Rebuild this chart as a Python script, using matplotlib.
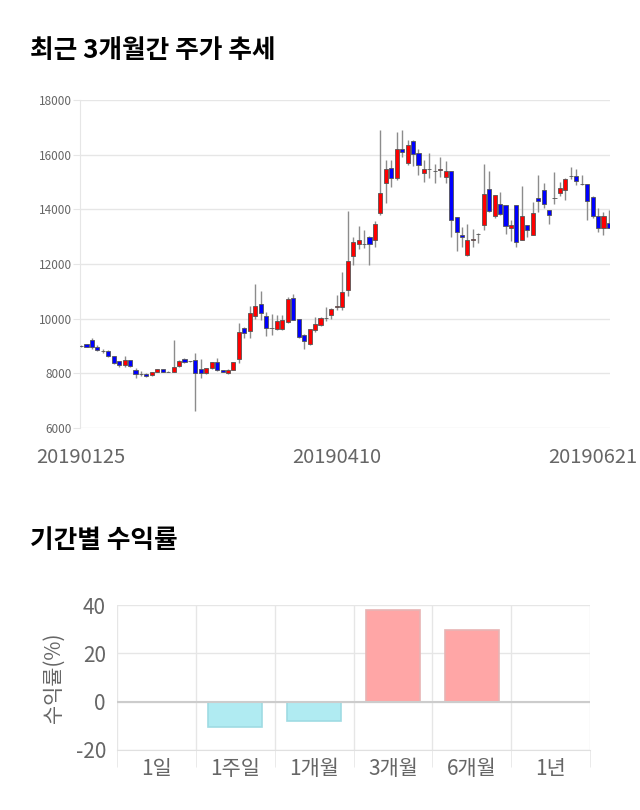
import matplotlib
matplotlib.use("Agg")
import matplotlib.pyplot as plt
import numpy as np

plt.rcParams['font.family'] = ['Noto Sans CJK KR', 'DejaVu Sans']

# ---- candlestick data (OHLC) ----
opens = [9000, 9060, 9230, 8960, 8830, 8830, 8620, 8440, 8290, 8475,
         8135, 7975, 7990, 7930, 8050, 8160, 8060, 8050, 8270, 8525,
         8440, 8500, 8160, 8000, 8180, 8415, 8120, 8000, 8120, 8525,
         9660, 9560, 10105, 10530, 10115, 9655, 9620, 9620, 9880, 10750,
         9975, 9410, 9070, 9570, 9780, 10020, 10120, 10420, 10425, 11060,
         12310, 12720, 12726, 12970, 12860, 13860, 14955, 15503, 15140, 16197,
         15710, 16502, 16051, 15320, 15467, 15418, 15450, 15200, 15406, 13712,
         13055, 12312, 12880, 13100, 13410, 14760, 13760, 14212, 14151, 13300,
         14151, 12870, 13420, 13055, 14419, 14711, 13968, 14400, 14615, 14710,
         15211, 15223, 14919, 14919, 14468, 13761, 13311, 13518]
highs = [9050, 9080, 9290, 9040, 8890, 8850, 8640, 8460, 8620, 8480,
         8200, 8070, 8010, 8060, 8170, 8170, 8080, 9230, 8470, 8560,
         8450, 8740, 8530, 8200, 8420, 8550, 8130, 8150, 8430, 9840,
         9680, 10470, 11265, 11020, 10260, 10180, 10150, 10150, 10810, 10910,
         10000, 9430, 9640, 10050, 10070, 10410, 10400, 10850, 11700, 13945,
         13006, 13396, 13240, 13010, 13560, 16904, 15808, 15808, 16843, 16904,
         16540, 16540, 16200, 15800, 16050, 15660, 15910, 15770, 15406, 13720,
         13350, 13450, 13280, 13130, 15662, 15406, 14530, 14650, 14160, 13620,
         14160, 14858, 13440, 14261, 15260, 14955, 13980, 15369, 14992, 15140,
         15564, 15480, 15260, 14930, 14480, 14042, 13920, 13980]
lows = [8970, 8950, 8890, 8800, 8740, 8600, 8350, 8230, 8230, 8240,
        7820, 7910, 7870, 7900, 8040, 8040, 8040, 8040, 8250, 8370,
        8420, 6612, 7830, 7990, 8170, 8100, 8040, 7990, 8110, 8380,
        9300, 9290, 10000, 9960, 9350, 9410, 9580, 9580, 9850, 9940,
        9290, 8889, 9050, 9510, 9720, 9900, 10000, 10330, 10330, 10814,
        11950, 12550, 12600, 11971, 12620, 13800, 14224, 14833, 15080, 15929,
        15625, 15600, 15250, 15016, 15150, 14950, 15200, 14960, 13006, 12458,
        12640, 12300, 12640, 12780, 13226, 13900, 13700, 13800, 13104, 12850,
        12640, 12860, 13006, 13050, 13920, 14066, 13457, 14212, 14492, 14346,
        15100, 14894, 14900, 13615, 13676, 13189, 13067, 13300]
closes = [9000, 8960, 8960, 8840, 8830, 8620, 8380, 8290, 8475, 8260,
          7975, 7975, 7915, 8050, 8160, 8060, 8060, 8245, 8440, 8400,
          8440, 8020, 8000, 8180, 8415, 8120, 8060, 8135, 8415, 9510,
          9460, 10200, 10470, 10200, 9655, 9655, 9925, 9950, 10730, 9960,
          9315, 9170, 9620, 9790, 10020, 10020, 10365, 10460, 10975, 12120,
          12800, 12870, 12726, 12715, 13470, 14610, 15465, 15162, 16200, 16112,
          16355, 16015, 15613, 15465, 15467, 15418, 15490, 15405, 13615, 13165,
          12970, 12860, 12910, 13100, 14550, 13956, 14515, 13847, 13408, 13420,
          12811, 13750, 13262, 13860, 14310, 14212, 13810, 14400, 14770, 15115,
          15211, 15052, 14919, 14310, 13761, 13311, 13761, 13311]
date_ticks = [0, 47, 94]
date_labels = ['20190125', '20190410', '20190621']
price_ticks = [6000, 8000, 10000, 12000, 14000, 16000, 18000]

# ---- period returns ----
periods = ['1일', '1주일', '1개월', '3개월', '6개월', '1년']
returns = [0.0, -10.3, -7.8, 37.8, 29.6, 0.0]
ret_ticks = [-20, 0, 20, 40]

fig = plt.figure(figsize=(6.4, 8.1), dpi=100)
W, H = 640, 810

def axes_px(l, t, r, b):
    return fig.add_axes([l / W, 1 - b / H, (r - l) / W, (b - t) / H])

# ---------- candlestick ----------
ax = axes_px(80, 100, 610, 428)
o = np.array(opens, float); c = np.array(closes, float)
h = np.array(highs, float); lo = np.array(lows, float)
x = np.arange(len(o))
up = c >= o
ax.vlines(x, lo, h, color='#8c8c8c', linewidth=1.0, zorder=2)
bottoms = np.minimum(o, c)
heights = np.abs(c - o)
cols = np.where(up, '#ff0000', '#0000ff')
ax.bar(x, heights, bottom=bottoms, width=0.75, color=cols,
       edgecolor='#555555', linewidth=0.6, zorder=3)
ax.set_xlim(-0.2, len(o) - 0.8)
ax.set_ylim(6000, 18000)
ax.set_yticks(price_ticks)
ax.set_yticklabels([str(v) for v in price_ticks], fontsize=8.5, color='#666666')
ax.set_xticks(date_ticks)
ax.set_xticklabels(date_labels, fontsize=14.5, color='#666666')
ax.tick_params(axis='x', length=0, pad=14)
ax.tick_params(axis='y', length=5, color='#e6e6e6', pad=1)
ax.grid(axis='y', color='#e6e6e6', linewidth=1.0)
ax.set_axisbelow(True)
for s in ['top', 'right', 'bottom']:
    ax.spines[s].set_visible(False)
ax.spines['left'].set_color('#e6e6e6')

fig.text(30 / W, 1 - 51 / H, '최근 3개월간 주가 추세', fontsize=18.5,
         fontweight='heavy', color='#000000', va='center', ha='left')

# ---------- returns bar chart ----------
ax2 = axes_px(117, 605, 590, 750)
xb = np.arange(len(periods))
bcols = ['#ffa6a6' if v >= 0 else '#b0ebf2' for v in returns]
ecols = ['none' if v == 0 else ('#e8b4b4' if v > 0 else '#9fdbe3') for v in returns]
ax2.bar(xb, returns, width=0.68, color=bcols, edgecolor=ecols,
        linewidth=1.2, zorder=3)
ax2.set_xlim(-0.5, len(periods) - 0.5)
ax2.set_ylim(-20, 40)
ax2.set_yticks(ret_ticks)
ax2.set_yticklabels([str(v) for v in ret_ticks], fontsize=15, color='#666666',
                    fontweight='light')
ax2.set_xticks(xb)
ax2.set_xticklabels(periods, fontsize=15, color='#666666', fontweight='light')
ax2.set_xticks(np.arange(len(periods) + 1) - 0.5, minor=True)
ax2.tick_params(axis='x', which='major', length=0, pad=6)
ax2.tick_params(axis='x', which='minor', length=12, color='#e6e6e6')
ax2.tick_params(axis='y', length=0, pad=8)
ax2.grid(axis='y', color='#e6e6e6', linewidth=1.0)
ax2.grid(axis='x', which='minor', color='#e6e6e6', linewidth=1.0)
ax2.axhline(0, color='#cccccc', linewidth=1.5, zorder=4)
ax2.set_axisbelow(True)
for s in ['top', 'right', 'left']:
    ax2.spines[s].set_visible(False)
ax2.spines['bottom'].set_color('#e0e0e0')
ax2.set_ylabel('수익률(%)', fontsize=15, color='#666666', labelpad=8,
               fontweight='light')

fig.text(30 / W, 1 - 541 / H, '기간별 수익률', fontsize=18.5,
         fontweight='heavy', color='#000000', va='center', ha='left')

fig.savefig('out.png', dpi=100, facecolor='white')
